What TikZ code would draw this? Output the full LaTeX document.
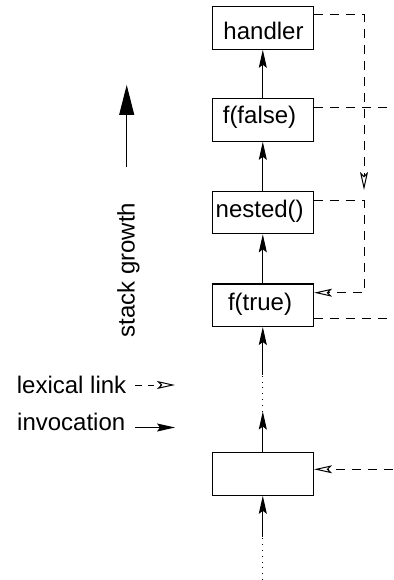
\documentclass[tikz,border=0pt]{standalone}
\usepackage{fontspec}
\setmainfont{Liberation Sans}
\usetikzlibrary{arrows.meta}
\begin{document}
\begin{tikzpicture}[x=1pt,y=-1pt,
  frame/.style={draw, line width=1.1pt, minimum width=101.5pt, minimum height=42.5pt, inner sep=0pt},
  lbl/.style={anchor=base, inner sep=0pt, font=\fontsize{24}{28}\selectfont},
  call/.style={line width=1pt, -{Stealth[length=18pt,width=8pt,inset=3pt]}},
  lexlink/.style={line width=1pt, dash pattern=on 9pt off 7pt,
    -{Stealth[open,length=18pt,width=8pt,inset=4pt]}},
  lexline/.style={line width=1pt, dash pattern=on 9pt off 7pt},
  gap/.style={line width=1pt, dash pattern=on 1pt off 4.8pt}]
\useasboundingbox (0,0) rectangle (393,580);

% stack frames
\node[frame] (handler) at (262.8,28) {};
\node[frame] (ffalse)  at (262.8,120) {};
\node[frame] (nested)  at (262.8,212.5) {};
\node[frame] (ftrue)   at (262.8,305.2) {};
\node[frame] (caller)  at (262.8,474) {};

\node[lbl] (thandler) at (263.5,40) {handler};
\node[lbl] (tffalse)  at (259.5,123.3) {f(false)};
\node[lbl] (tnested)  at (259.7,217) {nested()};
\node[lbl] (tftrue)   at (260,310) {f(true)};

% invocation chain
\draw[call] (ffalse.north) -- (handler.south);
\draw[call] (nested.north) -- (ffalse.south);
\draw[call] (ftrue.north) -- (nested.south);
\coordinate (gapAtop) at (262.8,375);
\coordinate (gapAbot) at (262.8,411.5);
\draw[call] (caller.north) -- (gapAbot);
\draw[gap] (gapAbot) -- (gapAtop);
\draw[call] (gapAtop) -- (ftrue.south);
\coordinate (gapBtop) at (262.8,537);
\coordinate (gapBbot) at (262.8,580);
\draw[call] (gapBtop) -- (caller.south);
\draw[gap] (gapBbot) -- (gapBtop);

% lexical links
\coordinate (hlend) at (364,190);
\draw[lexlink] (handler.east |- 0,15) -| (hlend);
\coordinate (ffout) at (393,108);
\draw[lexline] (ffalse.east |- ffout) -- (ffout);
\coordinate (ncorner) at (364,292.7);
\draw[lexlink] (nested.east |- 0,200.5) -| (ncorner) -- (ftrue.east |- ncorner);
\coordinate (ftout) at (393,318.3);
\draw[lexline] (ftrue.east |- ftout) -- (ftout);
\coordinate (cin) at (393,469.3);
\draw[lexlink] (cin) -- (caller.east |- cin);

% legend
\node[lbl, anchor=base west] (tlex) at (16.7,393.3) {lexical link};
\coordinate (lexA) at (135,385);
\coordinate (lexB) at (175,385);
\draw[lexlink, dash pattern=on 6.5pt off 6pt] (lexA) -- (lexB);
\node[lbl, anchor=base west] (tinv) at (17,430) {invocation};
\coordinate (invA) at (135,427.5);
\coordinate (invB) at (175,427.5);
\draw[call] (invA) -- (invB);

% stack growth
\coordinate (grA) at (126.7,166.7);
\coordinate (grB) at (126.7,85);
\draw[line width=1pt, -{Triangle[length=30pt,width=15pt]}] (grA) -- (grB);
\node[lbl, rotate=90] (tgrowth) at (134.5,270) {stack growth};
\end{tikzpicture}
\end{document}
